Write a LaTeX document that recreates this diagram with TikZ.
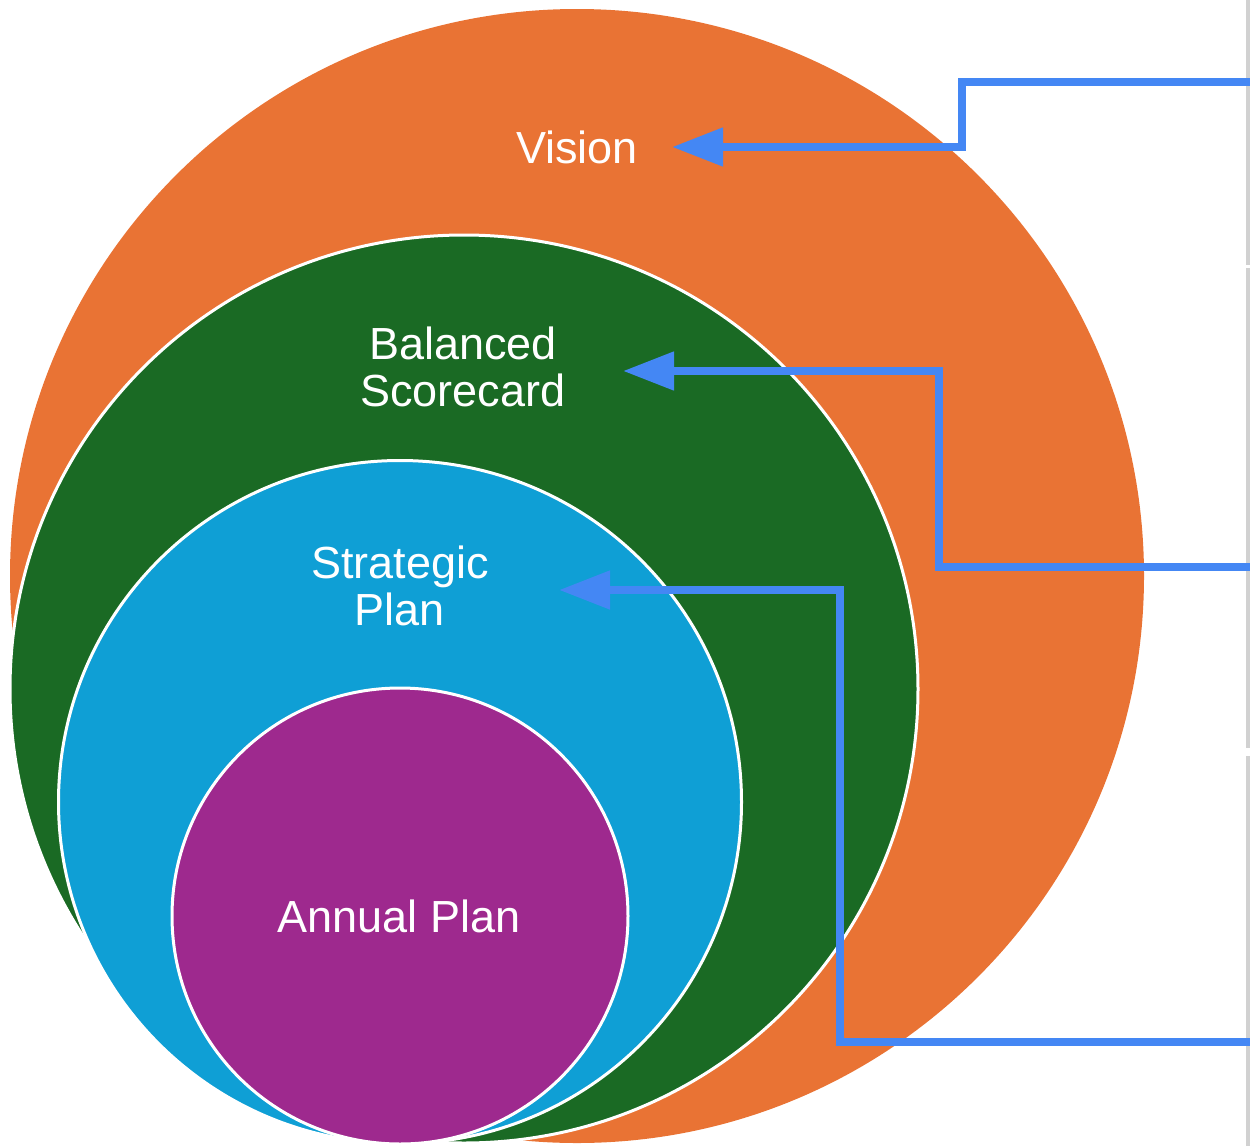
\documentclass[tikz,border=0pt]{standalone}
\usepackage{fontspec}
\setmainfont{Liberation Sans}
\usetikzlibrary{arrows.meta}
\definecolor{vorange}{HTML}{E97334}
\definecolor{bgreen}{HTML}{1A6A24}
\definecolor{sblue}{HTML}{0F9FD5}
\definecolor{apurple}{HTML}{9E298E}
\definecolor{arrblue}{HTML}{4487F4}
\tikzset{
  ring/.style={circle, inner sep=0pt, draw=white, line width=3pt},
  lbl/.style={text=white, font=\fontsize{45}{47}\selectfont, align=center, inner sep=0pt, anchor=base},
  pointer/.style={draw=arrblue, line width=8pt, line join=miter, -{Triangle[length=51pt,width=37pt]}},
  edgestrip/.style={fill=black!18, draw=none}
}
\begin{document}
\begin{tikzpicture}[x=1pt,y=-1pt]
\useasboundingbox (0,0) rectangle (1250,1146);
% page edge at right
\fill[edgestrip] (1246,0) rectangle (1250,265);
\fill[edgestrip] (1246,268) rectangle (1250,748);
\fill[edgestrip] (1246,756) rectangle (1250,1146);
% circles
\node[circle, inner sep=0pt, fill=vorange, minimum size=1134pt] (vision) at (577,576) {};
\node[ring, fill=bgreen, minimum size=908pt] (bsc) at (464,689) {};
\node[ring, fill=sblue, minimum size=683pt] (strat) at (400,802) {};
\node[ring, fill=apurple, minimum size=456pt] (annual) at (400,916) {};
% labels
\node[lbl] (tvision) at (577,163) {Vision};
\node[lbl] (tbsc) at (463,406) {Balanced\\Scorecard};
\node[lbl] (tstrat) at (400,625) {Strategic\\Plan};
\node[lbl] (tannual) at (399,932) {Annual Plan};
% arrow coordinates
\coordinate (vsrc) at (1250,82);
\coordinate (vbend) at (962,147);
\coordinate (vtip) at (672,147);
\coordinate (bsrc) at (1250,567);
\coordinate (bbend) at (939,371);
\coordinate (btip) at (623,371);
\coordinate (ssrc) at (1250,1042);
\coordinate (sbend) at (840,590);
\coordinate (stip) at (559,590);
\draw[pointer] (vsrc) -| (vbend) -- (vtip);
\draw[pointer] (bsrc) -| (bbend) -- (btip);
\draw[pointer] (ssrc) -| (sbend) -- (stip);
\end{tikzpicture}
\end{document}
